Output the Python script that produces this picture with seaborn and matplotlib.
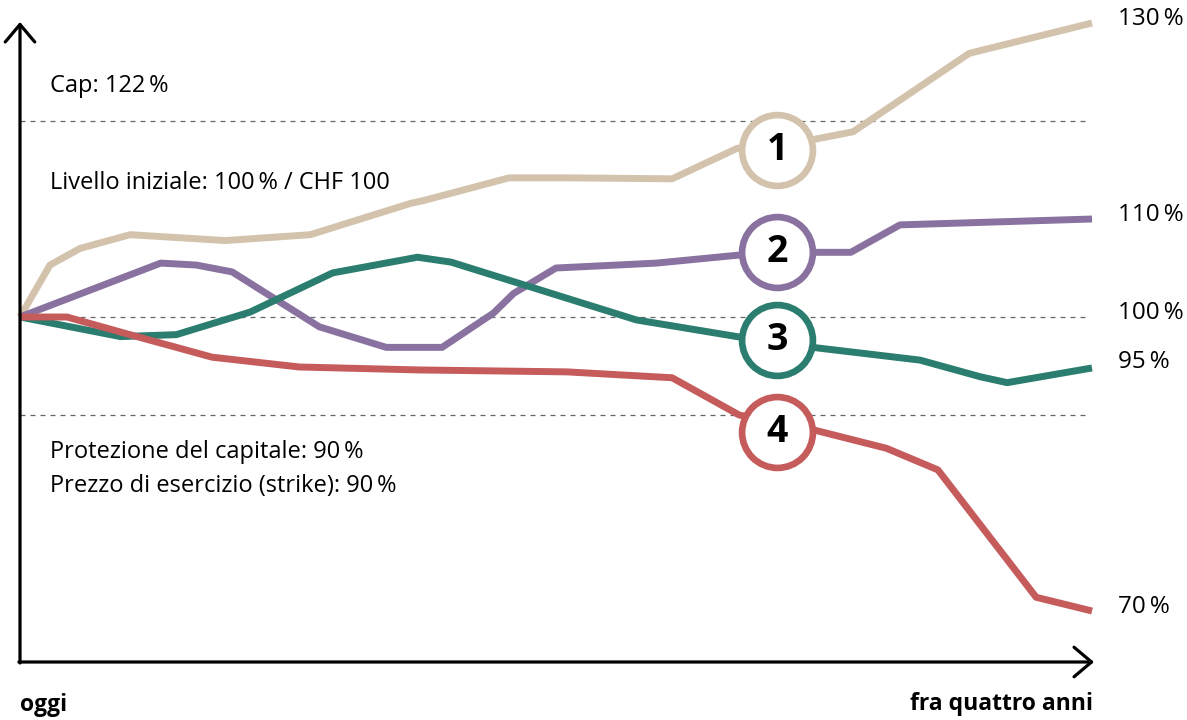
import matplotlib
matplotlib.use("Agg")
import matplotlib.pyplot as plt
import seaborn as sns
import pandas as pd

# months from today (0 = oggi, 48 = fra quattro anni), level in % of start
mesi_1 = [0, 1.34, 2.69, 4.93, 9.2, 13.0, 17.5, 18.1, 21.9, 24.6, 29.2, 32.1, 35.5, 37.3, 42.5, 48]
liv_1 = [100, 105.3, 107.0, 108.4, 107.8, 108.4, 111.6, 111.9, 114.2, 114.2, 114.1, 117.2, 118.1, 118.9, 126.9, 130]

mesi_2 = [0, 6.3, 7.9, 9.5, 13.4, 16.4, 18.9, 21.2, 22.1, 24.0, 28.5, 32.1, 35.5, 37.2, 39.4, 48]
liv_2 = [100, 105.5, 105.3, 104.6, 99.0, 96.9, 96.9, 100.4, 102.4, 105.0, 105.5, 106.3, 106.6, 106.6, 109.4, 110]

mesi_3 = [0, 4.5, 7.0, 10.3, 14.0, 17.8, 19.3, 27.6, 32.1, 35.5, 40.3, 43.0, 44.2, 48]
liv_3 = [100, 98.0, 98.2, 100.5, 104.5, 106.1, 105.6, 99.7, 98.0, 96.9, 95.6, 93.9, 93.3, 94.8]

mesi_4 = [0, 2.1, 4.6, 8.6, 12.5, 17.8, 24.5, 29.2, 32.2, 35.5, 38.8, 41.1, 45.5, 48]
liv_4 = [100, 100, 98.4, 95.9, 94.9, 94.6, 94.4, 93.8, 90.0, 88.5, 86.6, 84.4, 71.4, 70]

scenari = ["1", "2", "3", "4"]
colori = ["#d3c3ad", "#8a72a0", "#2a7d6f", "#c65b5b"]

# circled labels on the lines
etichetta_x = 33.9
etichetta_y = [117.0, 106.6, 97.7, 88.3]

# end values written on the right
valori_finali = [130, 110, 100, 95, 70]

# dashed reference levels (cap, initial level, protection)
livelli = [120, 100, 90]

df = pd.concat([
    pd.DataFrame({"mese": m, "livello": v, "scenario": s})
    for m, v, s in zip([mesi_1, mesi_2, mesi_3, mesi_4],
                       [liv_1, liv_2, liv_3, liv_4], scenari)
])

sns.set_theme(style="white")
plt.rcParams["font.family"] = ["Open Sans", "DejaVu Sans"]

W, H = 1187, 720
fig = plt.figure(figsize=(W / 100, H / 100), dpi=100)
ax = fig.add_axes([0, 0, 1, 1])

# pixel -> data mapping: x=0 at px 20, x=48 at px 1092; y=100 at px 317, 9.8 px per %
px_mese = (1092 - 20) / 48
ax.set_xlim(-20 / px_mese, (W - 20) / px_mese)
ax.set_ylim(100 - (H - 317) / 9.8, 100 + 317 / 9.8)
ax.axis("off")

for lv in livelli:
    ax.plot([0, 47.9], [lv, lv], color="#666666", lw=0.9, ls=(0, (4, 4)), zorder=1)

sns.lineplot(data=df, x="mese", y="livello", hue="scenario", palette=colori,
             sort=False, estimator=None, lw=5.0, legend=False, ax=ax, zorder=3)
for line in ax.lines[len(livelli):]:
    line.set_solid_joinstyle("round")
    line.set_solid_capstyle("butt")

for s, y, c in zip(scenari, etichetta_y, colori):
    ax.plot(etichetta_x, y, marker="o", ms=51, mew=4.8, mfc="white", mec=c, zorder=5)
    ax.text(etichetta_x, y, s, ha="center", va="center", fontsize=27,
            fontweight="bold", color="black", zorder=6)

# axes with open arrow heads
y_base = 100 - (662 - 317) / 9.8
y_top = 100 + (317 - 22) / 9.8
x_end = (1094 - 20) / px_mese
freccia = dict(arrowstyle="->,head_length=0.45,head_width=0.38", lw=2.3,
               color="black", mutation_scale=28, shrinkA=0, shrinkB=0)
ax.annotate("", xy=(0, y_top), xytext=(0, y_base - 0.1), arrowprops=freccia, zorder=7)
ax.annotate("", xy=(x_end, y_base), xytext=(-0.05, y_base), arrowprops=freccia, zorder=7)

for v in valori_finali:
    ax.annotate(f"{v}\u2009%", xy=(48, v), xytext=(19, 3), textcoords="offset points",
                ha="left", va="center", fontsize=17.5, color="black")

def testo(x, y, s, **kw):
    fig.text(x / W, 1 - y / H, s, va="center", color="black", **kw)

testo(50, 86, "Cap: 122\u2009%", fontsize=17)
testo(50, 183, "Livello iniziale: 100\u2009% / CHF 100", fontsize=17)
testo(50, 452, "Protezione del capitale: 90\u2009%", fontsize=17)
testo(50, 486, "Prezzo di esercizio (strike): 90\u2009%", fontsize=17)
testo(20, 705, "oggi", fontsize=16.5, fontweight="bold")
testo(1093, 704, "fra quattro anni", fontsize=16.5, fontweight="bold", ha="right")

fig.savefig("out.png", dpi=100, facecolor="white")
